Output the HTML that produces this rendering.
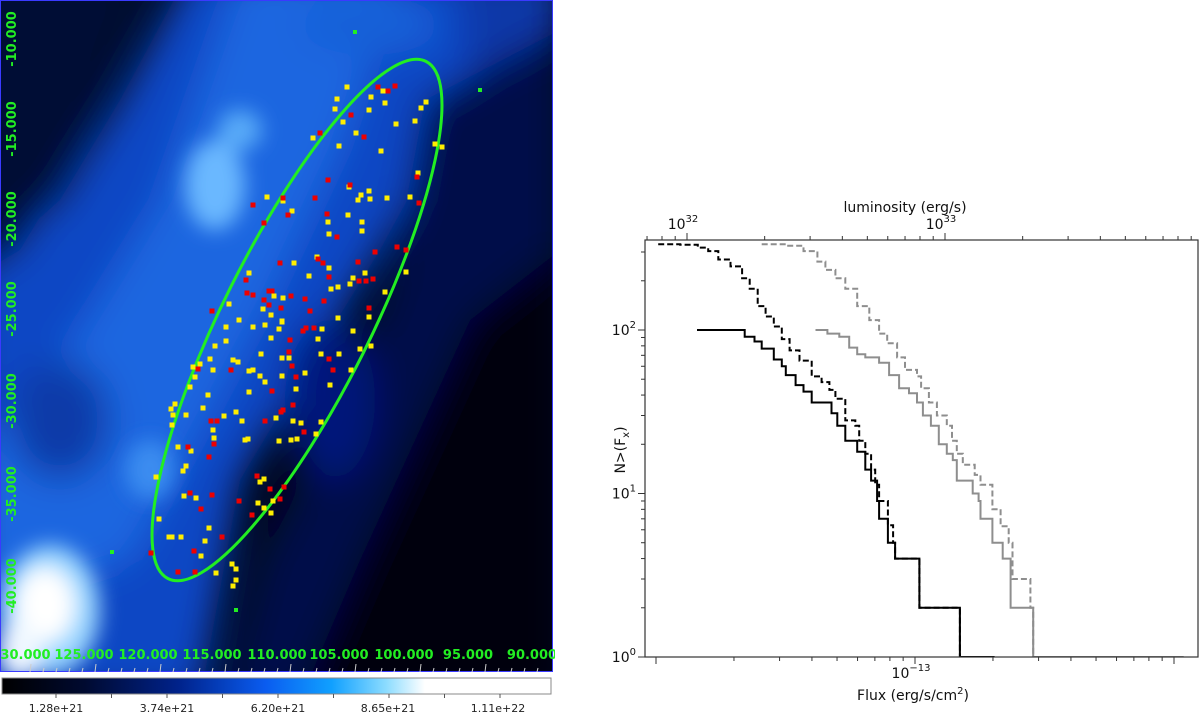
<!DOCTYPE html>
<html><head><meta charset="utf-8"><style>
html,body{margin:0;padding:0;background:#fff;}
body{width:1200px;height:715px;position:relative;overflow:hidden;font-family:"DejaVu Sans","Liberation Sans",sans-serif;}
</style></head><body>
<svg id="left" width="555" height="715" style="position:absolute;left:0;top:0" xmlns="http://www.w3.org/2000/svg">
<defs>
<filter id="b1" x="-50%" y="-50%" width="200%" height="200%"><feGaussianBlur stdDeviation="18"/></filter>
<filter id="b2" x="-50%" y="-50%" width="200%" height="200%"><feGaussianBlur stdDeviation="10"/></filter>
<clipPath id="imgclip"><rect x="1" y="1" width="552" height="671"/></clipPath>
<linearGradient id="cbar" x1="0" x2="1" y1="0" y2="0">
<stop offset="0" stop-color="#000000"/><stop offset="0.15" stop-color="#000a30"/><stop offset="0.32" stop-color="#00228a"/>
<stop offset="0.48" stop-color="#0a5cf0"/><stop offset="0.6" stop-color="#10a0ff"/><stop offset="0.7" stop-color="#8cdcff"/>
<stop offset="0.77" stop-color="#ffffff"/><stop offset="1" stop-color="#ffffff"/></linearGradient>
</defs>
<g clip-path="url(#imgclip)">
<rect x="0" y="0" width="555" height="672" fill="#01061c"/>
<g filter="url(#b1)">
<polygon points="190,-30 560,-30 560,60 440,140 380,250 300,380 240,480 200,700 -30,700 -30,280 60,200 120,100" fill="#0b46c4"/>
<polygon points="240,-30 400,-30 340,150 270,300 190,450 130,560 -30,610 -30,450 80,330 160,200" fill="#1a66e0"/>
<polygon points="-30,-30 150,-30 80,150 20,250 -30,280" fill="#020c34"/>
<ellipse cx="370" cy="25" rx="70" ry="30" fill="#1560d8"/>
<polygon points="460,-30 560,-30 560,120 470,110" fill="#0a38a8"/>
<ellipse cx="60" cy="420" rx="50" ry="60" fill="#0a3aa8"/>
<polygon points="425,100 560,30 560,700 225,700 262,560 330,430 390,290" fill="#03104a"/>
<polygon points="470,320 560,250 560,700 300,700 360,560" fill="#00030f"/>
<ellipse cx="330" cy="400" rx="45" ry="80" fill="#03177a"/>
</g>
<g filter="url(#b2)">
<ellipse cx="215" cy="185" rx="30" ry="45" fill="#6ab8ff"/>
<ellipse cx="240" cy="130" rx="22" ry="20" fill="#58aaf8"/>
<ellipse cx="150" cy="470" rx="25" ry="30" fill="#3a8cf0"/>
<ellipse cx="50" cy="610" rx="50" ry="65" fill="#9ad6ff"/>
<ellipse cx="45" cy="605" rx="30" ry="38" fill="#ffffff"/>
<ellipse cx="20" cy="650" rx="22" ry="30" fill="#f0f8ff"/>
</g>
</g>
<rect x="0.5" y="0.5" width="552" height="671" fill="none" stroke="#3a3aff" stroke-width="1"/>
<ellipse cx="297" cy="320" rx="289" ry="74" transform="rotate(-63.5 297 320)" fill="none" stroke="#22ee22" stroke-width="3"/>
<g id="pts"></g>
<g id="lab" font-family="'DejaVu Sans','Liberation Sans',sans-serif" font-weight="bold" font-size="13" fill="#22ee22"></g>
<rect x="2" y="678" width="549" height="16" fill="url(#cbar)" stroke="#888" stroke-width="1"/>
<g id="cb" font-family="'DejaVu Sans','Liberation Sans',sans-serif" font-size="11" fill="#222"></g>
</svg>

<svg id="chart" width="1200" height="715" style="position:absolute;left:0;top:0;pointer-events:none" xmlns="http://www.w3.org/2000/svg">
<defs><clipPath id="pc"><rect x="645" y="240" width="553" height="417"/></clipPath></defs>
<g id="series" clip-path="url(#pc)"></g>
<rect x="645" y="240" width="553" height="417" fill="none" stroke="#333" stroke-width="1.2"/>
<g id="axes" font-family="'DejaVu Sans','Liberation Sans',sans-serif" fill="#111"></g>
<text x="905" y="212" font-size="14" text-anchor="middle" font-family="'DejaVu Sans',sans-serif" fill="#111">luminosity (erg/s)</text>
<text x="913" y="700" font-size="14" text-anchor="middle" font-family="'DejaVu Sans',sans-serif" fill="#111">Flux (erg/s/cm<tspan font-size="10" dy="-6">2</tspan><tspan dy="6">)</tspan></text>
<text transform="translate(625,450) rotate(-90)" font-size="14" text-anchor="middle" font-family="'DejaVu Sans',sans-serif" fill="#111">N&gt;(F<tspan font-size="10" dy="4">x</tspan><tspan dy="-4">)</tspan></text>
</svg>

<script>
// ---- chart data (flux in units of 1e-13 erg/s/cm2, N = cumulative count) ----
const blackSolidFlux = [0.144,0.199,0.22,0.24,0.256,0.285,0.306,0.317,0.346,0.371,0.399,0.451,0.476,0.501,0.538,0.598,0.643,0.677,0.714,0.727,0.786,0.838,1.04,1.49,2.03];
const blackSolidN    = [100,100,91,85,77,66,60,53,46,42,36,36,31,26,21,18,14,12,9,7,5,4,2,1,1];
const blackDashFlux  = [0.102,0.124,0.145,0.159,0.174,0.194,0.215,0.230,0.247,0.265,0.285,0.306,0.328,0.358,0.399,0.436,0.467,0.493,0.538,0.588,0.609,0.643,0.677,0.702,0.727,0.786,0.823,0.838,1.04,1.49];
const blackDashN     = [335,332,319,304,270,245,207,179,140,121,105,88,75,65,52,48,43,38,28,26,21,17.5,14,11.3,9,6.4,5,4,2,1];
const graySolidFlux  = [0.413,0.459,0.510,0.557,0.598,0.643,0.727,0.794,0.868,0.948,1.018,1.073,1.152,1.236,1.327,1.40,1.45,1.67,1.76,1.79,1.99,2.18,2.34,2.86,10.9];
const graySolidN     = [100,95,91,78,71,68,63,53,44,41,36,30,26,20,17.5,16,12,10,9,7,5,4,2,1,1];
const grayDashFlux   = [0.256,0.317,0.371,0.420,0.451,0.493,0.538,0.598,0.666,0.727,0.781,0.853,0.915,1.018,1.056,1.132,1.215,1.327,1.39,1.45,1.53,1.70,1.79,1.99,2.14,2.30,2.38,2.79,2.86];
const grayDashN      = [335,328,304,262,233,207,179,140,115,95,83,68,57,52,44,36,30,26,21,17.5,15,13,11.3,8,6.3,5,3,2,1];
const yTickVals = [1,10,100];
const yTickLabels = ["0","1","2"];
const xTickVals = [1];
const xTickLabels = ["\u221213"];
const topTickVals = [1e32,1e33];
const topTickLabels = ["32","33"];

const NS='http://www.w3.org/2000/svg';
function xS(f){return 915+Math.log10(f)*259;}
function yS(n){return 657-Math.log10(n)*163.5;}
function lS(L){return 687+(Math.log10(L)-32)*258;}
function mk(tag,attrs,parent){const e=document.createElementNS(NS,tag);for(const k in attrs)e.setAttribute(k,attrs[k]);parent.appendChild(e);return e;}

function stepPath(fx,ny){
  let d='M'+xS(fx[0]).toFixed(1)+' '+yS(ny[0]).toFixed(1);
  for(let i=1;i<fx.length;i++){
    d+=' H'+xS(fx[i]).toFixed(1)+' V'+yS(ny[i]).toFixed(1);
  }
  return d;
}
const ser=document.getElementById('series');
const s1=mk('path',{d:stepPath(blackSolidFlux,blackSolidN),fill:'none',stroke:'#000','stroke-width':2},ser);


const s2=mk('path',{d:stepPath(blackDashFlux,blackDashN),fill:'none',stroke:'#000','stroke-width':2,'stroke-dasharray':'6,3'},ser);


const s3=mk('path',{d:stepPath(graySolidFlux,graySolidN),fill:'none',stroke:'#8e8e8e','stroke-width':2},ser);


const s4=mk('path',{d:stepPath(grayDashFlux,grayDashN),fill:'none',stroke:'#8e8e8e','stroke-width':2,'stroke-dasharray':'6,3'},ser);



const ax=document.getElementById('axes');
for(let d=0;d<=2;d++){for(let m=1;m<10;m++){const v=m*Math.pow(10,d);const y=yS(v);if(y<240)continue;
  const t=mk('line',{x1:645,x2:645-(m===1?7:4),y1:y,y2:y,stroke:'#333','stroke-width':1},ax);
  
  }}
yTickVals.forEach((v,i)=>{const t=mk('text',{x:636,y:yS(v)+5,'font-size':14,'text-anchor':'end'},ax);
  
  
  t.innerHTML='10<tspan font-size="10" dy="-7">'+yTickLabels[i]+'</tspan>';});
for(let d=-2;d<=1;d++){for(let m=1;m<10;m++){const v=m*Math.pow(10,d);const x=xS(v);if(x<645||x>1198)continue;
  const t=mk('line',{x1:x,x2:x,y1:657,y2:657+(m===1?7:4),stroke:'#333','stroke-width':1},ax);
  
  }}
xTickVals.forEach((v,i)=>{const t=mk('text',{x:xS(v)-4,y:678,'font-size':14,'text-anchor':'middle'},ax);
  
  
  t.innerHTML='10<tspan font-size="10" dy="-7">'+xTickLabels[i]+'</tspan>';});
for(let d=31;d<=33;d++){for(let m=1;m<10;m++){const v=m*Math.pow(10,d);const x=lS(v);if(x<645||x>1198)continue;
  const t=mk('line',{x1:x,x2:x,y1:240,y2:240-(m===1?7:4),stroke:'#333','stroke-width':1},ax);
  
  }}
topTickVals.forEach((v,i)=>{const t=mk('text',{x:lS(v)-4,y:229,'font-size':14,'text-anchor':'middle'},ax);
  
  
  t.innerHTML='10<tspan font-size="10" dy="-7">'+topTickLabels[i]+'</tspan>';});

// ---- left map ----
const yellowPts=[[347,87],[337,99],[335,109],[371,97],[383,91],[385,103],[369,110],[343,122],[396,124],[415,121],[421,108],[426,102],[435,144],[442,147],[313,138],[356,133],[339,146],[381,151],[418,173],[349,187],[369,191],[361,195],[358,200],[370,199],[387,198],[410,197],[267,197],[283,201],[292,211],[348,215],[328,222],[362,222],[329,234],[362,231],[317,257],[294,263],[329,268],[309,276],[365,273],[353,278],[350,284],[338,287],[331,289],[385,292],[406,272],[249,273],[274,296],[283,298],[229,304],[263,309],[271,315],[239,320],[282,321],[338,318],[369,317],[226,327],[253,327],[265,325],[279,329],[282,322],[353,331],[322,329],[318,339],[271,338],[226,341],[215,346],[210,359],[233,360],[238,362],[261,354],[282,358],[289,358],[321,354],[339,354],[371,346],[360,349],[351,370],[200,364],[193,367],[213,370],[249,371],[253,370],[260,376],[265,382],[282,376],[305,373],[330,385],[190,387],[195,377],[208,395],[249,392],[296,389],[175,404],[171,409],[173,415],[172,425],[186,415],[203,408],[224,416],[236,412],[242,421],[276,418],[293,421],[301,423],[321,422],[316,434],[213,430],[214,438],[248,439],[245,440],[279,441],[291,440],[297,439],[178,447],[191,451],[186,466],[183,471],[156,477],[260,482],[264,479],[184,496],[196,498],[258,503],[264,508],[271,513],[273,501],[159,519],[209,528],[169,537],[181,537],[172,537],[205,541],[201,556],[232,564],[236,569],[216,573],[233,586],[236,580]];
const redPts=[[378,87],[388,91],[395,86],[351,115],[320,133],[364,137],[328,180],[350,185],[315,198],[283,198],[253,205],[288,215],[327,214],[264,223],[337,237],[419,203],[417,177],[375,252],[397,247],[406,250],[318,259],[323,263],[280,263],[358,262],[329,277],[359,281],[366,281],[373,279],[246,280],[247,293],[253,295],[269,291],[272,291],[264,300],[269,305],[291,296],[305,299],[324,301],[281,308],[310,311],[369,308],[212,311],[303,331],[306,328],[314,328],[290,340],[289,352],[292,366],[296,377],[329,359],[333,370],[231,370],[198,369],[272,391],[283,410],[281,412],[293,405],[265,421],[211,421],[217,421],[304,432],[214,444],[188,447],[209,457],[257,476],[270,489],[284,487],[280,499],[190,493],[212,495],[239,501],[201,509],[252,515],[222,537],[194,551],[151,553],[178,572],[195,572]];
const greenPts=[[355,32],[480,90],[112,552],[236,610]];
const pg=document.getElementById('pts');
yellowPts.forEach(p=>{const r=mk('rect',{x:p[0]-2.5,y:p[1]-2.5,width:5,height:5,fill:'#ffee00'},pg);
  
  });
redPts.forEach(p=>{const r=mk('rect',{x:p[0]-2.5,y:p[1]-2.5,width:5,height:5,fill:'#ee0000'},pg);
  
  });
greenPts.forEach(p=>{const r=mk('rect',{x:p[0]-2,y:p[1]-2,width:4,height:4,fill:'#22ee22'},pg);
  
  });

const decLabels=["-10.000","-15.000","-20.000","-25.000","-30.000","-35.000","-40.000"];
const decY=[39,129,219,309,401,494,586];
const raLabels=["130.000","125.000","120.000","115.000","110.000","105.000","100.000","95.000","90.000"];
const raX=[21,84,148,212,277,339,404,468,532];
const lg=document.getElementById('lab');
decLabels.forEach((s,i)=>{const t=mk('text',{transform:'translate(16,'+decY[i]+') rotate(-90)','text-anchor':'middle'},lg);
  
  
  t.textContent=s;});
raLabels.forEach((s,i)=>{const t=mk('text',{x:raX[i],y:659,'text-anchor':'middle'},lg);
  
  
  t.textContent=s;});
for(let i=0;i<40;i++){const x=30+i*13;const l=mk('line',{x1:x,x2:x+1,y1:672,y2:(i%5===0?664:668),stroke:'#ccc','stroke-width':1},lg);
  
  }

const cbLabels=["1.28e+21","3.74e+21","6.20e+21","8.65e+21","1.11e+22"];
const cbX=[56,167,278,388,498];
const cg=document.getElementById('cb');
cbLabels.forEach((s,i)=>{const t=mk('text',{x:cbX[i],y:712,'text-anchor':'middle'},cg);
  
  
  t.textContent=s;});
for(let i=0;i<10;i++){const x=56+i*55.5;if(x>550)break;const l=mk('line',{x1:x,x2:x,y1:694,y2:698,stroke:'#555','stroke-width':1},cg);
  
  }
</script>
</body></html>
